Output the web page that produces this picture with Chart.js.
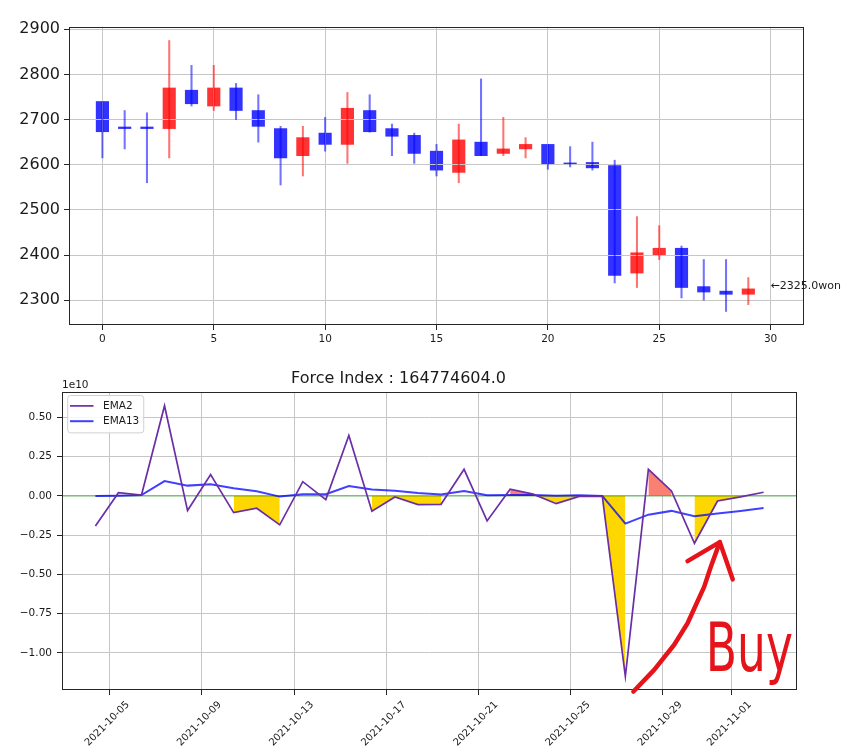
<!DOCTYPE html>
<html>
<head>
<meta charset="utf-8">
<script src="https://cdn.jsdelivr.net/npm/chart.js"></script>
<style>
  html, body { margin: 0; padding: 0; background: #ffffff; }
  #wrap { position: relative; width: 850px; height: 756px; overflow: hidden; }
  canvas { position: absolute; left: 0; }
  #priceChart { top: 0; }
  #forceChart { top: 350px; }
</style>
</head>
<body>
<div id="wrap">
  <canvas id="priceChart" width="850" height="350"></canvas>
  <canvas id="forceChart" width="850" height="406"></canvas>
</div>
<script>
// ---------------- data: candlestick (top) ----------------
const candleIdx = [0,1,2,3,4,5,6,7,8,9,10,11,12,13,14,15,16,17,18,19,20,21,22,23,24,25,26,27,28,29];
const opens  = [2740,2680,2680,2680,2765,2730,2770,2720,2680,2620,2670,2645,2720,2680,2665,2630,2583,2650,2625,2635,2645,2604,2605,2598,2360,2400,2415,2330,2320,2313];
const highs  = [2740,2720,2715,2875,2820,2820,2780,2755,2685,2685,2705,2760,2755,2690,2670,2645,2690,2790,2705,2660,2645,2640,2650,2610,2485,2465,2420,2390,2390,2350];
const lows   = [2615,2635,2560,2615,2730,2720,2700,2650,2555,2575,2630,2603,2672,2620,2603,2575,2560,2620,2620,2615,2590,2595,2588,2338,2328,2390,2305,2300,2275,2290];
const closes = [2673,2680,2680,2770,2735,2770,2720,2685,2615,2660,2645,2725,2673,2663,2625,2588,2655,2620,2635,2645,2600,2600,2593,2355,2405,2415,2328,2318,2313,2325];
const priceTicks = [2300,2400,2500,2600,2700,2800,2900];
const indexTicks = [0,5,10,15,20,25,30];
const priceUnit = 'won';

// ---------------- data: force index (bottom), values in units of 1e10 ----------------
const fiDates = ['2021-10-04T09:00:00Z','2021-10-05T09:00:00Z','2021-10-06T09:00:00Z','2021-10-07T09:00:00Z','2021-10-08T09:00:00Z',
                 '2021-10-09T09:00:00Z','2021-10-10T09:00:00Z','2021-10-11T09:00:00Z','2021-10-12T09:00:00Z','2021-10-13T09:00:00Z',
                 '2021-10-14T09:00:00Z','2021-10-15T09:00:00Z','2021-10-16T09:00:00Z','2021-10-17T09:00:00Z','2021-10-18T09:00:00Z',
                 '2021-10-19T09:00:00Z','2021-10-20T09:00:00Z','2021-10-21T09:00:00Z','2021-10-22T09:00:00Z','2021-10-23T09:00:00Z',
                 '2021-10-24T09:00:00Z','2021-10-25T09:00:00Z','2021-10-26T09:00:00Z','2021-10-27T09:00:00Z','2021-10-28T09:00:00Z',
                 '2021-10-29T09:00:00Z','2021-10-30T09:00:00Z','2021-10-31T09:00:00Z','2021-11-01T09:00:00Z','2021-11-02T09:00:00Z'];
const ema2  = [-0.191,0.021,0.006,0.575,-0.093,0.136,-0.106,-0.078,-0.184,0.091,-0.023,0.386,-0.097,-0.006,-0.055,
               -0.053,0.170,-0.159,0.043,0.012,-0.049,-0.003,-0.002,-1.150,0.170,0.032,-0.301,-0.032,-0.006,0.024];
const ema13 = [0.000,0.002,0.006,0.095,0.066,0.074,0.049,0.030,-0.004,0.011,0.011,0.064,0.041,0.034,0.019,
               0.009,0.032,0.004,0.006,0.006,0.002,0.004,0.000,-0.176,-0.119,-0.095,-0.129,-0.112,-0.095,-0.076];
const buyZone  = [0,0,0,0,0,0,1,1,1,0,0,0,1,1,1,1,0,0,0,1,1,1,1,1,0,0,1,1,1,0];
const sellZone = [0,0,0,0,0,0,0,0,0,0,0,0,0,0,0,0,0,0,1,1,0,0,0,0,1,1,0,0,0,0];
const fiTickDates = ['2021-10-05','2021-10-09','2021-10-13','2021-10-17','2021-10-21','2021-10-25','2021-10-29','2021-11-01'];
const fiTicks = [-1.00,-0.75,-0.50,-0.25,0.00,0.25,0.50];
const fiScaleLabel = '1e10';
const fiTitle = 'Force Index : 164774604.0';
const seriesNames = ['EMA2','EMA13'];

// hand-drawn "Buy" note (in data coordinates: day offset from first point, value ×1e10)
const buyArrowShaft = [[23.35,-1.246],[24.25,-1.108],[25.12,-0.948],[25.70,-0.811],[26.06,-0.695],[26.42,-0.579],[26.71,-0.451],[27.10,-0.294]];
const buyArrowHead  = [[25.70,-0.415],[27.10,-0.294],[27.66,-0.531]];
const buyNote = { text: 'Buy', day: 26.49, value: -1.115 };

// ---------------- common ----------------
Chart.defaults.font.family = "'DejaVu Sans', sans-serif";
Chart.defaults.color = '#1a1a1a';
const GRID = '#c6c6c6';
const SPINE = '#262626';
const FONT = "'DejaVu Sans', sans-serif";

const framePlugin = {
  id: 'frame',
  afterDraw(chart) {
    const { ctx, chartArea: a } = chart;
    ctx.save();
    ctx.strokeStyle = SPINE;
    ctx.lineWidth = 1;
    ctx.strokeRect(Math.round(a.left) + 0.5, Math.round(a.top) + 0.5,
                   Math.round(a.right - a.left) - 1, Math.round(a.bottom - a.top) - 1);
    ctx.restore();
  }
};

// ---------------- top: candlestick ----------------
const isUp = candleIdx.map(i => closes[i] > opens[i]);
const pLo = Math.min(...lows), pHi = Math.max(...highs), pPad = (pHi - pLo) * 0.05;

// wicks (lines) sit above the grid, bodies (patches) below it, as in matplotlib
const wickOnTop = {
  id: 'wickOnTop',
  beforeDatasetDraw(chart, args) {
    if (args.index === 1) return false;
  },
  afterDraw(chart) {
    const { ctx, chartArea: a } = chart;
    ctx.save();
    ctx.beginPath();
    ctx.rect(a.left, a.top, a.right - a.left, a.bottom - a.top);
    ctx.clip();
    chart.getDatasetMeta(1).controller.draw();
    ctx.restore();
  }
};

const lastClosePlugin = {
  id: 'lastClose',
  afterDraw(chart) {
    const { ctx, scales } = chart;
    const n = closes.length;
    const last = closes[n - 1];
    ctx.save();
    ctx.font = '11px ' + FONT;
    ctx.fillStyle = '#1a1a1a';
    ctx.textAlign = 'left';
    ctx.textBaseline = 'alphabetic';
    ctx.fillText('\u2190' + last.toFixed(1) + priceUnit, scales.x.getPixelForValue(n), scales.y.getPixelForValue(last));
    ctx.restore();
  }
};

new Chart(document.getElementById('priceChart'), {
  type: 'bar',
  data: {
    datasets: [
      {
        label: 'body',
        data: candleIdx.map(i => ({ x: i, y: [opens[i], closes[i]] })),
        backgroundColor: isUp.map(u => u ? 'rgba(255,0,0,0.8)' : 'rgba(0,0,255,0.8)'),
        borderWidth: 0,
        barThickness: 12.5,
        minBarLength: 1.6,
        grouped: false,
        order: 1
      },
      {
        label: 'wick',
        data: candleIdx.map(i => ({ x: i, y: [lows[i], highs[i]] })),
        backgroundColor: isUp.map(u => u ? 'rgba(255,0,0,0.55)' : 'rgba(0,0,255,0.55)'),
        borderWidth: 0,
        barThickness: 1.4,
        grouped: false,
        order: 2
      }
    ]
  },
  options: {
    responsive: false,
    animation: false,
    layout: { padding: { top: 27, right: 46, left: 0, bottom: 0 } },
    plugins: { legend: { display: false }, tooltip: { enabled: false } },
    scales: {
      x: {
        type: 'linear', min: -1.5, max: 31.5, offset: false, bounds: 'data',
        afterBuildTicks: s => { s.ticks = indexTicks.map(v => ({ value: v })); },
        afterFit: s => { s.height = 25; },
        grid: { offset: false, color: GRID, lineWidth: 1, z: 1, drawTicks: true, tickLength: 5, tickColor: SPINE, tickWidth: 1 },
        border: { display: false },
        ticks: { font: { size: 10.5 }, padding: 3, maxRotation: 0, minRotation: 0, autoSkip: false, callback: v => String(v) }
      },
      y: {
        type: 'linear', min: pLo - pPad, max: pHi + pPad, bounds: 'data',
        afterBuildTicks: s => { s.ticks = priceTicks.map(v => ({ value: v })); },
        afterFit: s => { s.width = 69; },
        grid: { offset: false, color: GRID, lineWidth: 1, z: 1, drawTicks: true, tickLength: 5, tickColor: SPINE, tickWidth: 1 },
        border: { display: false },
        ticks: { font: { size: 16 }, padding: 4, autoSkip: false, callback: v => String(v) }
      }
    }
  },
  plugins: [wickOnTop, framePlugin, lastClosePlugin]
});

// ---------------- bottom: force index ----------------
const DAY = 86400000;
const X = fiDates.map(d => Date.parse(d) / DAY);
const xSpan = X[X.length - 1] - X[0];
const xMin = X[0] - 0.05 * xSpan, xMax = X[X.length - 1] + 0.05 * xSpan;
const allVals = ema2.concat(ema13);
const yLo = Math.min(...allVals), yHi = Math.max(...allVals), yPad = (yHi - yLo) * 0.05;
const tickDays = fiTickDates.map(d => Date.parse(d + 'T00:00:00Z') / DAY);

const C_EMA2 = '#6a2ea6';
const C_EMA13 = 'rgba(0,0,255,0.75)';

const fiDecor = {
  id: 'fiDecor',
  afterDatasetsDraw(chart) {
    // legend (matplotlib style, inside the axes, upper left)
    const { ctx, chartArea: a } = chart;
    const items = [0, 1].map(i => chart.data.datasets[i]);
    ctx.save();
    ctx.font = '10.5px ' + FONT;
    const textX = a.left + 41;
    const maxW = Math.max(...items.map(d => ctx.measureText(d.label).width));
    const fx = a.left + 5.7, fy = a.top + 3.3, fw = textX + maxW + 4.5 - fx, fh = 37.4, r = 3;
    ctx.beginPath();
    ctx.moveTo(fx + r, fy);
    ctx.arcTo(fx + fw, fy, fx + fw, fy + fh, r);
    ctx.arcTo(fx + fw, fy + fh, fx, fy + fh, r);
    ctx.arcTo(fx, fy + fh, fx, fy, r);
    ctx.arcTo(fx, fy, fx + fw, fy, r);
    ctx.closePath();
    ctx.fillStyle = 'rgba(255,255,255,0.85)';
    ctx.fill();
    ctx.strokeStyle = '#d0d0d0';
    ctx.lineWidth = 1;
    ctx.stroke();
    items.forEach((d, k) => {
      const y = a.top + 13.7 + k * 15.3;
      ctx.beginPath();
      ctx.moveTo(a.left + 8, y);
      ctx.lineTo(a.left + 31.5, y);
      ctx.strokeStyle = d.borderColor;
      ctx.lineWidth = d.borderWidth;
      ctx.stroke();
      ctx.fillStyle = '#1a1a1a';
      ctx.textAlign = 'left';
      ctx.textBaseline = 'middle';
      ctx.fillText(d.label, textX, y + 0.5);
    });
    ctx.restore();
  },
  afterDraw(chart) {
    const { ctx, chartArea: a, scales } = chart;
    ctx.save();
    // offset label of the y axis
    ctx.font = '10.5px ' + FONT;
    ctx.fillStyle = '#1a1a1a';
    ctx.textAlign = 'left';
    ctx.textBaseline = 'alphabetic';
    ctx.fillText(fiScaleLabel, a.left, a.top - 4);
    // hand-drawn buy note
    const px = p => [scales.x.getPixelForValue(X[0] + p[0]), scales.y.getPixelForValue(p[1])];
    ctx.strokeStyle = '#e5141b';
    ctx.fillStyle = '#e5141b';
    ctx.lineWidth = 4.5;
    ctx.lineCap = 'round';
    ctx.lineJoin = 'round';
    ctx.beginPath();
    buyArrowShaft.forEach((p, i) => { const [x, y] = px(p); if (i === 0) ctx.moveTo(x, y); else ctx.lineTo(x, y); });
    ctx.stroke();
    ctx.beginPath();
    buyArrowHead.forEach((p, i) => { const [x, y] = px(p); if (i === 0) ctx.moveTo(x, y); else ctx.lineTo(x, y); });
    ctx.stroke();
    const [bx, by] = px([buyNote.day, buyNote.value]);
    ctx.translate(bx, by);
    ctx.scale(0.67, 1);
    ctx.font = '68px ' + FONT;
    ctx.textAlign = 'left';
    ctx.textBaseline = 'alphabetic';
    ctx.fillText(buyNote.text, 0, 0);
    ctx.restore();
  }
};

const zoneData = flags => X.map((x, i) => ({ x, y: flags[i] ? ema2[i] : null }));
const fmtVal = v => (v < 0 ? '\u2212' : '') + Math.abs(v).toFixed(2);

new Chart(document.getElementById('forceChart'), {
  type: 'line',
  data: {
    datasets: [
      { label: seriesNames[0], data: X.map((x, i) => ({ x, y: ema2[i] })), borderColor: C_EMA2, backgroundColor: C_EMA2,
        borderWidth: 1.7, pointRadius: 0, fill: false, tension: 0, order: 1 },
      { label: seriesNames[1], data: X.map((x, i) => ({ x, y: ema13[i] })), borderColor: C_EMA13, backgroundColor: C_EMA13,
        borderWidth: 2, pointRadius: 0, fill: false, tension: 0, order: 2 },
      { label: 'zero', data: [{ x: xMin, y: 0 }, { x: xMax, y: 0 }], borderColor: 'rgba(0,128,0,0.55)',
        borderWidth: 1.2, pointRadius: 0, fill: false, order: 3 },
      { label: 'buy', data: zoneData(buyZone), borderColor: 'transparent', backgroundColor: '#FFD700',
        borderWidth: 0, pointRadius: 0, fill: 'origin', spanGaps: false, order: 4 },
      { label: 'sell', data: zoneData(sellZone), borderColor: 'transparent', backgroundColor: '#FA8072',
        borderWidth: 0, pointRadius: 0, fill: 'origin', spanGaps: false, order: 5 }
    ]
  },
  options: {
    responsive: false,
    animation: false,
    layout: { padding: { top: 0, right: 53, left: 0, bottom: 0 } },
    plugins: {
      legend: { display: false },
      tooltip: { enabled: false },
      title: { display: true, text: fiTitle, color: '#1a1a1a', font: { size: 16, weight: 'normal' }, padding: { top: 19, bottom: 4 } }
    },
    scales: {
      x: {
        type: 'linear', min: xMin, max: xMax, offset: false, bounds: 'data',
        afterBuildTicks: s => { s.ticks = tickDays.map(v => ({ value: v })); },
        afterFit: s => { s.height = 66; },
        grid: { color: GRID, lineWidth: 1, drawTicks: true, tickLength: 5, tickColor: SPINE, tickWidth: 1 },
        border: { display: false },
        ticks: { font: { size: 10 }, padding: 4, minRotation: 45, maxRotation: 45, autoSkip: false, labelOffset: 18,
                 callback: (v, i) => fiTickDates[i] }
      },
      y: {
        type: 'linear', min: yLo - yPad, max: yHi + yPad, bounds: 'data',
        afterBuildTicks: s => { s.ticks = fiTicks.map(v => ({ value: v })); },
        afterFit: s => { s.width = 62; },
        grid: { color: GRID, lineWidth: 1, drawTicks: true, tickLength: 5, tickColor: SPINE, tickWidth: 1 },
        border: { display: false },
        ticks: { font: { size: 10.5 }, padding: 5, autoSkip: false, callback: v => fmtVal(v) }
      }
    }
  },
  plugins: [framePlugin, fiDecor]
});
</script>
</body>
</html>
